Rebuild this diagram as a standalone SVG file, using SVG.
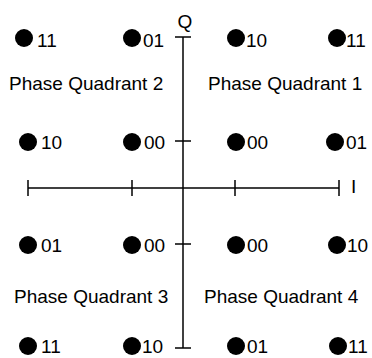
<svg xmlns="http://www.w3.org/2000/svg" width="372" height="358" viewBox="0 0 372 358">
<style>
.ax{stroke:#000;stroke-width:1.5;fill:none}
.dot{fill:#000}
text{font-family:"Liberation Sans",Arial,sans-serif;font-size:19px;fill:#000}
</style>
<rect width="372" height="358" fill="#fff"/>
<g id="connectors">
<line class="ax" x1="183" y1="37" x2="183" y2="348"/>
<line class="ax" x1="175" y1="37" x2="191" y2="37"/>
<line class="ax" x1="175" y1="141" x2="191" y2="141"/>
<line class="ax" x1="175" y1="244" x2="191" y2="244"/>
<line class="ax" x1="175" y1="348" x2="191" y2="348"/>
<line class="ax" x1="28" y1="188" x2="339" y2="188"/>
<line class="ax" x1="28" y1="180" x2="28" y2="196"/>
<line class="ax" x1="132" y1="180" x2="132" y2="196"/>
<line class="ax" x1="235" y1="180" x2="235" y2="196"/>
<line class="ax" x1="339" y1="180" x2="339" y2="196"/>
</g>
<g id="axis-labels">
<text x="185" y="28" text-anchor="middle">Q</text>
<text x="351" y="193">I</text>
</g>
<g id="quadrants">
<text x="9" y="90">Phase Quadrant 2</text>
<text x="208" y="90">Phase Quadrant 1</text>
<text x="14" y="303">Phase Quadrant 3</text>
<text x="204" y="303">Phase Quadrant 4</text>
</g>
<g id="p-r1c1"><circle class="dot" cx="24" cy="38" r="9"/><text x="37" y="47">11</text></g>
<g id="p-r1c2"><circle class="dot" cx="132" cy="38" r="9"/><text x="143" y="47">01</text></g>
<g id="p-r1c3"><circle class="dot" cx="236" cy="38" r="9"/><text x="246" y="47">10</text></g>
<g id="p-r1c4"><circle class="dot" cx="337" cy="38" r="9"/><text x="346" y="47">11</text></g>
<g id="p-r2c1"><circle class="dot" cx="28" cy="142" r="9"/><text x="41" y="149">10</text></g>
<g id="p-r2c2"><circle class="dot" cx="132" cy="142" r="9"/><text x="144" y="149">00</text></g>
<g id="p-r2c3"><circle class="dot" cx="236" cy="142" r="9"/><text x="247" y="149">00</text></g>
<g id="p-r2c4"><circle class="dot" cx="335" cy="142" r="9"/><text x="346" y="149">01</text></g>
<g id="p-r3c1"><circle class="dot" cx="28" cy="245" r="9"/><text x="41" y="252">01</text></g>
<g id="p-r3c2"><circle class="dot" cx="132" cy="245" r="9"/><text x="144" y="252">00</text></g>
<g id="p-r3c3"><circle class="dot" cx="236" cy="245" r="9"/><text x="247" y="252">00</text></g>
<g id="p-r3c4"><circle class="dot" cx="337" cy="245" r="9"/><text x="347" y="252">10</text></g>
<g id="p-r4c1"><circle class="dot" cx="28" cy="346" r="9"/><text x="41" y="353">11</text></g>
<g id="p-r4c2"><circle class="dot" cx="132" cy="346" r="9"/><text x="142" y="353">10</text></g>
<g id="p-r4c3"><circle class="dot" cx="236" cy="346" r="9"/><text x="247" y="353">01</text></g>
<g id="p-r4c4"><circle class="dot" cx="338" cy="346" r="9"/><text x="348" y="353">11</text></g>
</svg>
